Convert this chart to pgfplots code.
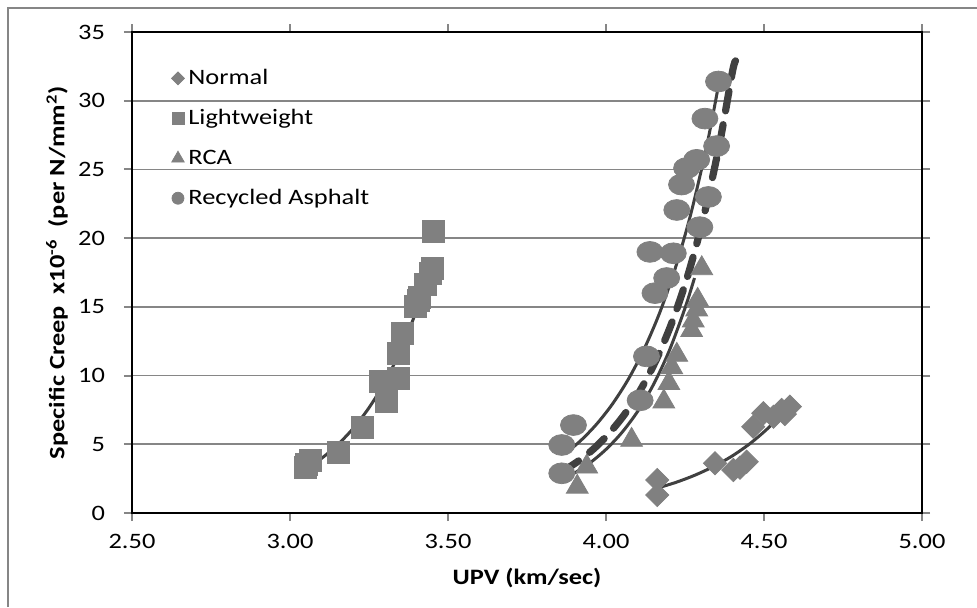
\documentclass[border=0pt]{standalone}
\usepackage{fontspec}
\setmainfont{Carlito}[FakeStretch=1.2]
\usepackage{pgfplots}
\pgfplotsset{compat=1.18}
\definecolor{mk}{RGB}{128,128,128}
\definecolor{ln}{RGB}{64,64,64}
\definecolor{gr}{RGB}{134,134,134}
\begin{document}
\begin{tikzpicture}
\path[use as bounding box] (-66pt,-47pt) rectangle (422.5pt,256.5pt);
\draw[gr, line width=1pt] (-62pt,-47pt) -- (-62pt,252.5pt) -- (422.5pt,252.5pt);
\begin{axis}[
    at={(0,0)}, anchor=south west,
    scale only axis, width=395pt, height=240.5pt,
    xmin=2.5, xmax=5, ymin=0, ymax=35,
    xtick={2.5,3,...,5}, ytick={0,5,...,35},
    /pgf/number format/assume math mode=true,
    tick label style={font=\fontsize{11}{13}\selectfont},
    xticklabel style={/pgf/number format/fixed, /pgf/number format/fixed zerofill,
        /pgf/number format/precision=2, yshift=-3pt},
    yticklabel style={xshift=-6pt},
    axis line style={black, line width=1pt},
    major tick style={gr, line width=1pt},
    tick align=outside, major tick length=4pt,
    ymajorgrids, grid style={gr, line width=0.9pt},
    xlabel={\textbf{UPV (km/sec)}},
    ylabel={\textbf{Specific Creep\ \ x10\textsuperscript{-6}\ \ (per N/mm\textsuperscript{2})}},
    label style={font=\fontsize{11}{13}\selectfont},
    xlabel style={at={(axis description cs:0.5,-0.135)}, anchor=center},
    ylabel style={at={(axis description cs:-0.095,0.5)}, anchor=center},
    legend style={at={(0.042,0.94)}, anchor=north west, draw=none, fill=none,
        font=\fontsize{11}{13}\selectfont, row sep=7pt},
    legend cell align=left,
]
\addlegendimage{only marks, mark=diamond*, mark size=3.2pt, mark options={mk, xscale=1.333}}
\addlegendentry{Normal}
\addlegendimage{only marks, mark=square*, mark size=3pt, mark options={mk}}
\addlegendentry{Lightweight}
\addlegendimage{only marks, mark=triangle*, mark size=3.6pt, mark options={mk}}
\addlegendentry{RCA}
\addlegendimage{only marks, mark=*, mark size=3pt, mark options={mk}}
\addlegendentry{Recycled Asphalt}

% Normal
\addplot[forget plot, only marks, mark=diamond*, mark size=5.8pt, mark options={mk, xscale=1.333}]
coordinates {
(4.162,2.40) (4.162,1.31) (4.345,3.62) (4.403,3.13) (4.424,3.30) (4.445,3.73)
(4.466,6.28) (4.498,7.26) (4.530,7.00) (4.556,7.50) (4.566,7.20) (4.582,7.74)
};
% Lightweight
\addplot[forget plot, only marks, mark=square*, mark size=5.5pt, mark options={mk}]
coordinates {
(3.050,3.30) (3.053,3.57) (3.065,3.80) (3.153,4.42) (3.230,6.24) (3.285,9.56)
(3.306,8.10) (3.343,9.80) (3.343,11.60) (3.355,13.10) (3.396,15.00) (3.405,15.50)
(3.411,15.70) (3.427,16.60) (3.443,17.40) (3.450,17.80) (3.453,20.50)
};
% RCA
\addplot[forget plot, only marks, mark=triangle*, mark size=6.3pt, mark options={mk}]
coordinates {
(3.909,1.90) (3.939,3.37) (4.081,5.31) (4.183,8.10) (4.199,9.44) (4.208,10.60)
(4.224,11.50) (4.271,13.30) (4.276,14.00) (4.287,14.80) (4.290,15.50) (4.303,17.80)
};
% Recycled Asphalt
\addplot[forget plot, only marks, mark=*, mark size=5.2pt, mark options={mk, xscale=1.25}]
coordinates {
(3.860,2.89) (3.860,4.95) (3.897,6.40) (4.108,8.20) (4.128,11.40) (4.155,16.00)
(4.192,17.10) (4.139,19.00) (4.213,18.90) (4.297,20.80) (4.224,22.05) (4.324,23.00)
(4.239,23.90) (4.255,25.10) (4.287,25.70) (4.350,26.70) (4.313,28.70) (4.356,31.40)
};

% trend lines
\addplot[forget plot, ln, line width=1.5pt, smooth] coordinates {
(4.16,1.80) (4.22,2.22) (4.28,2.74) (4.34,3.38) (4.40,4.16) (4.46,5.13) (4.52,6.33) (4.58,7.80)
};
\addplot[forget plot, ln, line width=1.5pt, smooth] coordinates {
(3.05,3.20) (3.10,3.98) (3.15,4.95) (3.20,6.16) (3.25,7.66) (3.30,9.52) (3.35,11.84) (3.40,14.73) (3.45,18.31)
};
\addplot[forget plot, ln, line width=1.5pt, smooth] coordinates {
(3.90,2.90) (3.95,3.66) (4.00,4.63) (4.05,5.85) (4.10,7.39) (4.15,9.34) (4.20,11.80) (4.25,14.91) (4.28,17.10)
};
\addplot[forget plot, ln, line width=1.5pt, smooth] coordinates {
(3.87,4.30) (3.92,5.27) (3.97,6.46) (4.02,7.92) (4.07,9.71) (4.12,11.90) (4.17,14.58) (4.22,17.87) (4.27,21.91) (4.32,26.85) (4.355,31.0)
};
\addplot[forget plot, ln, line width=3.6pt, line cap=round, dash pattern=on 10pt off 7pt, smooth] coordinates {
(3.86,3.00) (3.91,3.74) (3.96,4.65) (4.01,5.80) (4.06,7.22) (4.11,8.99) (4.16,11.20) (4.21,13.95) (4.26,17.37) (4.31,21.64) (4.36,26.95) (4.40,32.10) (4.41,32.90)
};
\end{axis}
\end{tikzpicture}
\end{document}
